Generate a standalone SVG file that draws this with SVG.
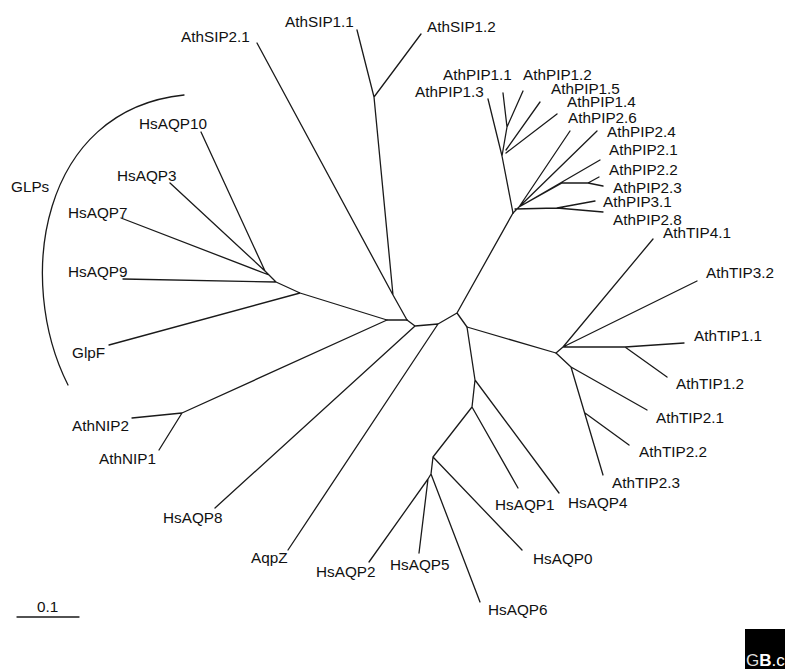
<svg xmlns="http://www.w3.org/2000/svg" width="785" height="669" viewBox="0 0 785 669">
<style>
  .lbl { font-family: "Liberation Sans", Arial, sans-serif; font-size: 15.3px; fill: #111; }
  .br { fill: none; stroke: #1a1a1a; stroke-width: 1.3; stroke-linecap: round; stroke-linejoin: round; }
</style>
<rect width="785" height="669" fill="#fff"/>
<g id="connectors" class="br">
  <path d="M257,43 L393,295 M357,30 L374,97 M421,34 L374,97 M374,97 L393,295 M393,295 L407,320"/>
  <path d="M387,320 L407,320 M387,320 L300,293 L276,282 M109,345 L300,293 M123,279 L276,282 M276,282 L269,275 L265,271 M121,218 L269,275 M170,183 L265,271 M201,132 L265,271"/>
  <path d="M387,320 L182,413 M132,418 L182,413 M159,450 L182,413"/>
  <path d="M407,320 L415,326 L438,324 L457,313 M215,508 L415,326 M288,550 L438,324 M457,313 L513,213 M457,313 L467,327 L556,353"/>
  <path d="M467,327 L475,380 L472,407 L433,457 L431,474 M559,493 L475,380 M518,488 L472,407 M522,550 L433,457 M480,602 L431,474 M431,474 L428,479 M369,562 L428,479 M419,553 L428,479"/>
  <path d="M556,353 L563,347 M653,239 L563,347 M697,281 L563,347 M563,347 L625,347 L684,343 M667,377 L625,347 M556,353 L571,367 M647,410 L571,367 M571,367 L603,475 M629,445 L585,413"/>
  <path d="M513,213 L519,207 M519,207 L570,131 M519,207 L597,131 M519,207 L600,160 M519,207 L562,183 L588,183 M588,183 L599,177 M588,183 L603,186 M515,209 L557,208 M557,208 L595,201 M557,208 L603,212"/>
  <path d="M513,213 L502,156 M488,99 L502,156 M502,156 L507,127 M503,93 L507,127 M523,91 L507,127 M540,102 L506,150 M557,114 L506,153"/>
  <path d="M184,95 C40,110 15,280 68,385"/>
  <path d="M17,617 L79,617"/>
</g>
<g id="AthSIP2.1"><text class="lbl" x="181" y="42">AthSIP2.1</text></g>
<g id="AthSIP1.1"><text class="lbl" x="285" y="27">AthSIP1.1</text></g>
<g id="AthSIP1.2"><text class="lbl" x="427" y="32">AthSIP1.2</text></g>
<g id="AthPIP1.1"><text class="lbl" x="443" y="80">AthPIP1.1</text></g>
<g id="AthPIP1.2"><text class="lbl" x="523" y="80">AthPIP1.2</text></g>
<g id="AthPIP1.3"><text class="lbl" x="415" y="97">AthPIP1.3</text></g>
<g id="AthPIP1.5"><text class="lbl" x="551" y="94">AthPIP1.5</text></g>
<g id="AthPIP1.4"><text class="lbl" x="567" y="107">AthPIP1.4</text></g>
<g id="AthPIP2.6"><text class="lbl" x="568" y="123">AthPIP2.6</text></g>
<g id="AthPIP2.4"><text class="lbl" x="607" y="137">AthPIP2.4</text></g>
<g id="AthPIP2.1"><text class="lbl" x="609" y="155">AthPIP2.1</text></g>
<g id="AthPIP2.2"><text class="lbl" x="609" y="175">AthPIP2.2</text></g>
<g id="AthPIP2.3"><text class="lbl" x="613" y="193">AthPIP2.3</text></g>
<g id="AthPIP3.1"><text class="lbl" x="603" y="207">AthPIP3.1</text></g>
<g id="AthPIP2.8"><text class="lbl" x="613" y="225">AthPIP2.8</text></g>
<g id="AthTIP4.1"><text class="lbl" x="663" y="238">AthTIP4.1</text></g>
<g id="AthTIP3.2"><text class="lbl" x="706" y="278">AthTIP3.2</text></g>
<g id="AthTIP1.1"><text class="lbl" x="694" y="341">AthTIP1.1</text></g>
<g id="AthTIP1.2"><text class="lbl" x="676" y="389">AthTIP1.2</text></g>
<g id="AthTIP2.1"><text class="lbl" x="656" y="423">AthTIP2.1</text></g>
<g id="AthTIP2.2"><text class="lbl" x="639" y="457">AthTIP2.2</text></g>
<g id="AthTIP2.3"><text class="lbl" x="612" y="488">AthTIP2.3</text></g>
<g id="HsAQP4"><text class="lbl" x="568" y="508">HsAQP4</text></g>
<g id="HsAQP1"><text class="lbl" x="495" y="510">HsAQP1</text></g>
<g id="HsAQP0"><text class="lbl" x="533" y="564">HsAQP0</text></g>
<g id="HsAQP6"><text class="lbl" x="488" y="615">HsAQP6</text></g>
<g id="HsAQP5"><text class="lbl" x="390" y="570">HsAQP5</text></g>
<g id="HsAQP2"><text class="lbl" x="316" y="577">HsAQP2</text></g>
<g id="AqpZ"><text class="lbl" x="251" y="563">AqpZ</text></g>
<g id="HsAQP8"><text class="lbl" x="163" y="523">HsAQP8</text></g>
<g id="AthNIP1"><text class="lbl" x="99" y="464">AthNIP1</text></g>
<g id="AthNIP2"><text class="lbl" x="72" y="431">AthNIP2</text></g>
<g id="GlpF"><text class="lbl" x="72" y="358">GlpF</text></g>
<g id="HsAQP9"><text class="lbl" x="68" y="277">HsAQP9</text></g>
<g id="HsAQP7"><text class="lbl" x="68" y="218">HsAQP7</text></g>
<g id="HsAQP3"><text class="lbl" x="117" y="181">HsAQP3</text></g>
<g id="HsAQP10"><text class="lbl" x="139" y="129">HsAQP10</text></g>
<g id="GLPs"><text class="lbl" x="11" y="192">GLPs</text></g>
<g id="scale"><text class="lbl" x="37" y="612">0.1</text></g>
<g id="logo">
  <rect x="745" y="629" width="40" height="40" fill="#000"/>
  <text x="746" y="666" font-family="Liberation Sans, Arial, sans-serif" font-size="17" fill="#fff"><tspan fill="#ddd">G</tspan><tspan font-weight="bold">B</tspan><tspan>.c</tspan></text>
</g>
</svg>
